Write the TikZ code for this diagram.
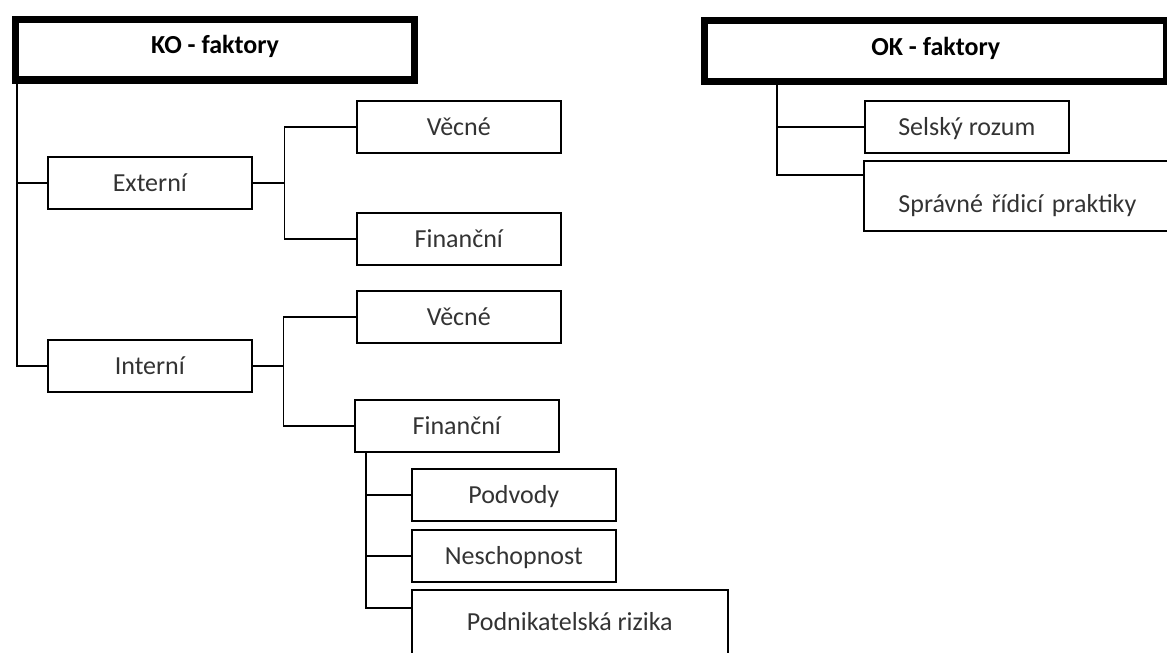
\documentclass[tikz,border=0pt]{standalone}
\usepackage{fontspec}
\setmainfont{Carlito}
\tikzset{
  fbox/.style={draw, line width=1.2pt, inner sep=0pt, minimum width=153pt, text height=26.25pt, text depth=12.75pt, anchor=north west, text=black!80, font=\fontsize{19.5}{23}\selectfont},
  headbox/.style={draw, line width=5.6pt, inner sep=0pt, text height=25.9pt, text depth=19.5pt, anchor=north west, font=\bfseries\fontsize{19.5}{23}\selectfont},
  link/.style={line width=1.2pt}
}
\begin{document}
\begin{tikzpicture}[x=0.75pt,y=0.75pt,yscale=-1,xscale=1]
\useasboundingbox (0,0) rectangle (1167,653);

% Head Nodes
\draw (12,15.5) node [headbox, minimum width=299pt] (ko) {KO - faktory};
\draw (701,17) node [headbox, minimum width=346.5pt] (ok) {OK - faktory};

% Text Node
\draw (47,156) node [fbox] (ext) {Externí};
\draw (47,339) node [fbox] (int) {Interní};
\draw (356,100) node [fbox] (vecext) {Věcné};
\draw (356,212) node [fbox] (finext) {Finanční};
\draw (356,290) node [fbox] (vecint) {Věcné};
\draw (354,399) node [fbox] (finint) {Finanční};
\draw (411,468) node [fbox] (podv) {Podvody};
\draw (411,529) node [fbox] (nesch) {Neschopnost};
\draw (411,589) node [fbox, minimum width=237pt, text height=30.75pt, text depth=60pt] (rizika) {Podnikatelská rizika};
% Text Node
\draw (864,100) node [fbox] (selsky) {Selský rozum};
\draw (863,160) node [fbox, text width=225pt, align=left, inner xsep=26pt, text height=39pt, text depth=13.5pt] (praktiky) {Správné řídicí praktiky};

%Straight Lines
\draw [link] ([xshift=3.75pt]ko.south west) |- (ext.west);
\draw [link] ([xshift=3.75pt]ko.south west) |- (int.west);
\draw [link] (ext.east) -- ++(32,0) coordinate (extbus);
\draw [link] (extbus) |- (vecext.west);
\draw [link] (extbus) |- (finext.west);
\draw [link] (int.east) -- ++(31,0) coordinate (intbus);
\draw [link] (intbus) |- (vecint.west);
\draw [link] (intbus) |- (finint.west);
\draw [link] ([xshift=9pt]finint.south west) |- (podv.west);
\draw [link] ([xshift=9pt]finint.south west) |- (nesch.west);
\draw [link] ([xshift=9pt]finint.south west) |- ([yshift=14.25pt]rizika.north west);
%Straight Lines
\draw [link] ([xshift=57pt]ok.south west) |- (selsky.west);
\draw [link] ([xshift=57pt]ok.south west) |- ([yshift=11.25pt]praktiky.north west);
\end{tikzpicture}
\end{document}
